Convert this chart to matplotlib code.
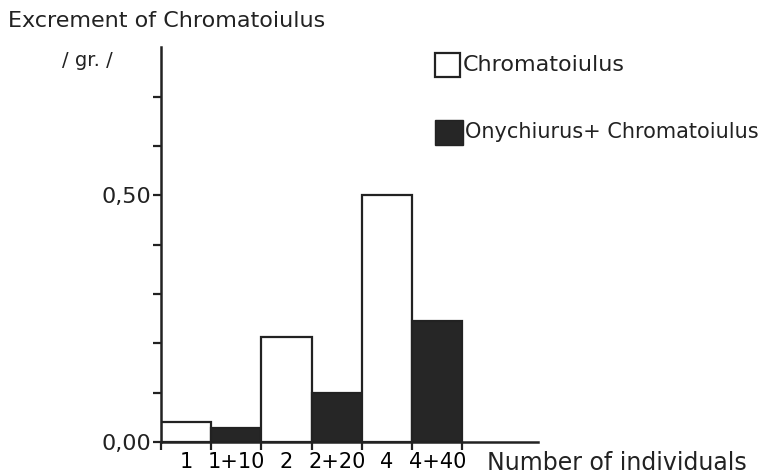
import numpy as np
import matplotlib.pyplot as plt

# bar heights (gr.)
labels = ["1", "1+10", "2", "2+20", "4", "4+40"]
values = [0.040, 0.028, 0.212, 0.099, 0.500, 0.245]
group = ["C", "OC", "C", "OC", "C", "OC"]
colors = {"C": "white", "OC": "#262626"}

plt.rcParams['font.family'] = ['DejaVu Sans']

fig = plt.figure(figsize=(7.66, 4.74), dpi=100)
ax = fig.add_axes([0.210, 0.0675, 0.492, 0.833])

x = np.arange(len(values))
ax.bar(x, values, width=1.0, align='edge',
       color=[colors[g] for g in group], edgecolor='#222222', linewidth=1.6)

ax.set_xlim(0, 7.5)
ax.set_ylim(0, 0.8)

for s in ['top', 'right']:
    ax.spines[s].set_visible(False)
for s in ['left', 'bottom']:
    ax.spines[s].set_linewidth(1.8)
    ax.spines[s].set_color('#222222')

# y ticks: labelled at 0 and 0.5, unlabelled marks every 0.1
ax.set_yticks([0.0, 0.5])
ax.set_yticklabels(["0,00", "0,50"])
ax.set_yticks([0.1, 0.2, 0.3, 0.4, 0.6, 0.7], minor=True)
ax.tick_params(axis='y', which='both', direction='out', length=6, width=1.6,
               colors='#222222', labelsize=16, pad=1)

# x ticks at bar edges, labels under bar centres
ax.set_xticks(np.arange(len(values) + 1))
ax.set_xticklabels([])
ax.tick_params(axis='x', which='major', direction='out', length=6, width=1.6,
               colors='#222222')
ax.set_xticks(x + 0.5, minor=True)
ax.set_xticklabels(labels, minor=True)
ax.tick_params(axis='x', which='minor', length=0, labelsize=15, pad=7)

fig.text(0.010, 0.955, "Excrement of Chromatoiulus", fontsize=16, color='#222222',
         ha='left', va='center')
fig.text(0.081, 0.872, "/ gr. /", fontsize=14, color='#222222', ha='left', va='center')
fig.text(0.636, 0.024, "Number of individuals", fontsize=17, color='#222222',
         ha='left', va='center')

# legend drawn by hand like the original
fig.patches.append(plt.Rectangle((0.568, 0.838), 0.033, 0.050, transform=fig.transFigure,
                                 facecolor='white', edgecolor='#222222', linewidth=1.6))
fig.text(0.604, 0.862, "Chromatoiulus", fontsize=16, color='#222222', ha='left', va='center')
fig.patches.append(plt.Rectangle((0.568, 0.695), 0.036, 0.052, transform=fig.transFigure,
                                 facecolor='#262626', edgecolor='#222222', linewidth=1.0))
fig.text(0.607, 0.721, "Onychiurus+ Chromatoiulus", fontsize=15, color='#222222',
         ha='left', va='center')

fig.savefig("out.png", dpi=100)
